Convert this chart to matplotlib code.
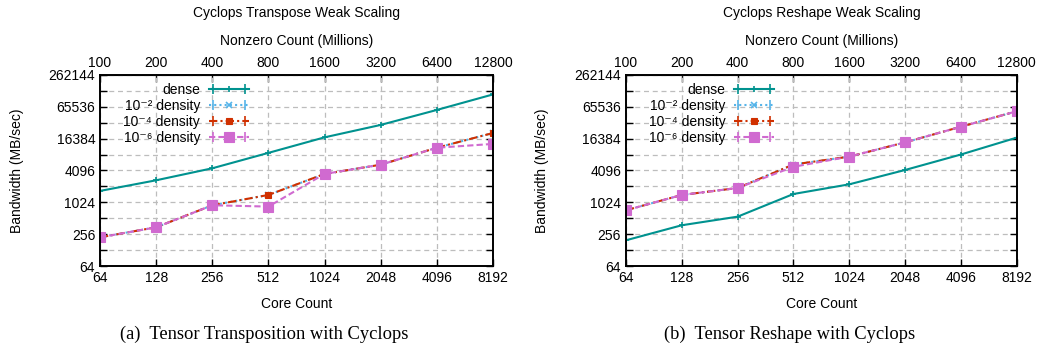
import matplotlib
matplotlib.use('Agg')
import matplotlib.pyplot as plt
from matplotlib.lines import Line2D
from matplotlib.legend_handler import HandlerLine2D
from matplotlib.ticker import FixedLocator, NullFormatter

plt.rcParams['font.family'] = ['Liberation Sans', 'DejaVu Sans']

cores = [64, 128, 256, 512, 1024, 2048, 4096, 8192]
nonzeros = [100, 200, 400, 800, 1600, 3200, 6400, 12800]
y_ticks = [64, 256, 1024, 4096, 16384, 65536, 262144]

# transpose
tr_dense = [1680, 2670, 4500, 8800, 17300, 29700, 57000, 112000]
tr_d2 = [223, 345, 900, 1410, 3520, 5260, 11000, 20900]
tr_d4 = [223, 345, 900, 1410, 3520, 5260, 11000, 20900]
tr_d6 = [223, 345, 900, 850, 3520, 5260, 11000, 13000]

# reshape
rs_dense = [196, 377, 548, 1470, 2240, 4180, 8200, 17100]
rs_d2 = [724, 1410, 1910, 5300, 7480, 13900, 27500, 53900]
rs_d4 = [724, 1410, 1910, 5300, 7480, 13900, 27500, 53900]
rs_d6 = [724, 1410, 1910, 4800, 7480, 13900, 27500, 53900]

labels = ['dense', '10\u207b\u00b2 density', '10\u207b\u2074 density', '10\u207b\u2076 density']
colors = ['#00928f', '#56b4e9', '#d03000', '#d06ad0']
styles = [dict(ls='-', marker='+', ms=5, mew=1.2),
          dict(ls=(0, (1, 1.5)), marker='x', ms=4, mew=1.2),
          dict(ls=(0, (4, 1.5, 1, 1.5)), marker='s', ms=4, mew=0.8),
          dict(ls=(0, (3, 1.5)), marker='s', ms=7, mew=0.8)]


def draw(ax, series, title, caption):
    handles = []
    hmap = {}
    for vals, lab, col, st in zip(series, labels, colors, styles):
        ln, = ax.plot(cores, vals, color=col, lw=1.5, mfc=col, mec=col, label=lab, **st)
        cap = Line2D([], [], color=col, ls='none', marker='|', ms=7, mew=1.2)
        hmap[ln] = HandlerLine2D(numpoints=1)
        hmap[cap] = HandlerLine2D(numpoints=2)
        handles.append((ln, cap))
    ax.set_xscale('log', base=2)
    ax.set_yscale('log', base=2)
    ax.set_xlim(64, 8192)
    ax.set_ylim(64, 262144)
    ax.xaxis.set_major_locator(FixedLocator(cores))
    ax.set_xticklabels([str(c) for c in cores])
    ax.xaxis.set_minor_locator(FixedLocator([]))
    ax.yaxis.set_major_locator(FixedLocator(y_ticks))
    ax.set_yticklabels([str(v) for v in y_ticks])
    ax.yaxis.set_minor_locator(FixedLocator([2 ** k for k in range(7, 18, 2)]))
    ax.yaxis.set_minor_formatter(NullFormatter())
    ax.grid(True, which='both', color='#bdbdbd', ls=(0, (4, 3)), lw=0.9)
    ax.set_axisbelow(True)
    ax.tick_params(which='both', direction='in', right=True, labelsize=10, length=5, width=1)
    ax.tick_params(axis='x', top=False)
    for s in ax.spines.values():
        s.set_linewidth(1.4)
    ax.set_xlabel('Core Count', fontsize=10, labelpad=9)
    ax.set_ylabel('Bandwidth (MB/sec)', fontsize=10, labelpad=18)

    sec = ax.secondary_xaxis('top', functions=(lambda c: c * 100.0 / 64, lambda n: n * 64 / 100.0))
    sec.set_xscale('log', base=2)
    sec.xaxis.set_major_locator(FixedLocator(nonzeros))
    sec.set_xticklabels([str(n) for n in nonzeros])
    sec.xaxis.set_minor_locator(FixedLocator([]))
    sec.tick_params(direction='in', labelsize=10, length=5, width=1)
    sec.set_xlabel('Nonzero Count (Millions)', fontsize=10, labelpad=8)
    ax.set_title(title, fontsize=10, pad=42)

    leg = ax.legend(handles, labels, handler_map=hmap, loc='upper right',
                    bbox_to_anchor=(0.4, 1.0), frameon=False, markerfirst=False,
                    fontsize=10, handlelength=2.9, handletextpad=0.6,
                    labelspacing=0.13, borderpad=0.6, borderaxespad=0.0)
    for t in leg.get_texts():
        t.set_ha('right')
    ax.text(0.418, -0.31, caption, transform=ax.transAxes, ha='center', va='top',
            fontsize=13.3, family=['Liberation Serif', 'DejaVu Serif'])


fig = plt.figure(figsize=(10.45, 3.5), dpi=100)
ax1 = fig.add_axes([0.0957, 0.24, 0.376, 0.546])
ax2 = fig.add_axes([0.599, 0.24, 0.374, 0.546])
draw(ax1, [tr_dense, tr_d2, tr_d4, tr_d6], 'Cyclops Transpose Weak Scaling',
     '(a)  Tensor Transposition with Cyclops')
draw(ax2, [rs_dense, rs_d2, rs_d4, rs_d6], 'Cyclops Reshape Weak Scaling',
     '(b)  Tensor Reshape with Cyclops')
fig.savefig('out.png', dpi=100)
